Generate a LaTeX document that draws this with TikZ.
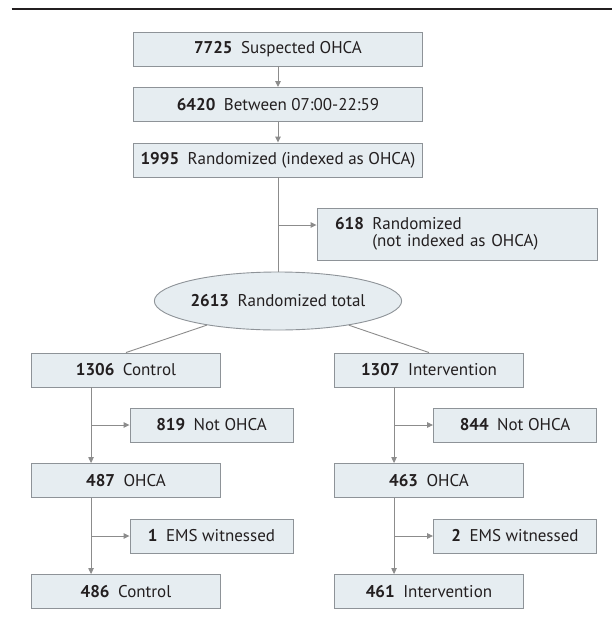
\documentclass[tikz,border=0pt]{standalone}
\usepackage{fontspec}
\setmainfont{PT Sans}
\usetikzlibrary{positioning,arrows.meta,shapes.geometric}
\definecolor{ink}{HTML}{231F20}
\definecolor{boxline}{HTML}{8E9398}
\definecolor{boxfill}{HTML}{E6EDF1}
\definecolor{wire}{HTML}{8C8C8C}
\tikzset{
  font=\fontsize{17}{17.5}\selectfont,
  >={Triangle[length=6pt,width=5.5pt]},
  %% nodes
  box/.style   = {draw=boxline, line width=0.9pt, fill=boxfill, text=ink,
                  inner sep=4pt, minimum height=34pt, align=center},
  wide/.style  = {box, minimum width=289pt},
  arm/.style   = {box, minimum width=189pt},
  side/.style  = {box, minimum width=163pt},
  note/.style  = {box, inner xsep=18pt, text width=244pt, minimum height=52pt, align=left},
  total/.style = {ellipse, draw=boxline, line width=0.9pt, fill=boxfill, text=ink,
                  minimum width=237pt, minimum height=58pt, inner sep=0pt},
  %% connectors
  flow/.style  = {->, draw=wire, line width=0.9pt},
  link/.style  = {-, draw=wire, line width=0.9pt},
}
\newcommand{\cnt}[2]{\textbf{#1}\enspace #2}

\begin{document}
\begin{tikzpicture}[x=1pt, y=-1pt]
\useasboundingbox (0,0) rectangle (612,625);
\draw[ink, line width=1.6pt] (11.5,9) -- (612,9);

%% ============ screening ============
\node[wide] (susp)   at (278,49)    {\cnt{7725}{Suspected OHCA}};
\node[wide] (hours)  at (278,104.5) {\cnt{6420}{Between 07:00-22:59}};
\node[wide] (rndidx) at (278,160)   {\cnt{1995}{Randomized (indexed as OHCA)}};
\node[note] (rndnot) at (457,234)
  {\cnt{618}{Randomized}\\\phantom{\textbf{618}\enspace}(not indexed as OHCA)};
\node[total] (rndall) at (278,301) {\cnt{2613}{Randomized total}};

\draw[flow] (susp) -- (hours);
\draw[flow] (hours) -- (rndidx);
\draw[link] (rndidx) -- (rndall);
\coordinate (brtop) at (278,225);
\draw[flow] (brtop) -- (brtop -| rndnot.west);

%% ============ control arm ============
\node[arm]  (ctrl)    at (126,370)   {\cnt{1306}{Control}};
\node[side] (ctrlno)  at (211.5,425) {\cnt{819}{Not OHCA}};
\node[arm]  (ctrlx)   at (126,480.5) {\cnt{487}{OHCA}};
\node[side] (ctrlems) at (211.5,536) {\cnt{1}{EMS witnessed}};
\node[arm]  (ctrlend) at (126,591.5) {\cnt{486}{Control}};

\coordinate (ctrlT) at ([xshift=60pt]ctrl.south west);
\coordinate (ctrlU) at ([xshift=60pt]ctrlx.south west);
\draw[link] (rndall) -- (ctrl.north);
\draw[flow] (ctrlT) -- (ctrlT |- ctrlx.north);
\draw[flow] (ctrlT |- ctrlno.west) -- (ctrlno.west);
\draw[flow] (ctrlU) -- (ctrlU |- ctrlend.north);
\draw[flow] (ctrlU |- ctrlems.west) -- (ctrlems.west);

%% ============ intervention arm ============
\node[arm]  (intv)    at (429,370)   {\cnt{1307}{Intervention}};
\node[side] (intvno)  at (515,425)   {\cnt{844}{Not OHCA}};
\node[arm]  (intvx)   at (429,480.5) {\cnt{463}{OHCA}};
\node[side] (intvems) at (515,536)   {\cnt{2}{EMS witnessed}};
\node[arm]  (intvend) at (429,591.5) {\cnt{461}{Intervention}};

\coordinate (intvT) at ([xshift=60pt]intv.south west);
\coordinate (intvU) at ([xshift=60pt]intvx.south west);
\draw[link] (rndall) -- (intv.north);
\draw[flow] (intvT) -- (intvT |- intvx.north);
\draw[flow] (intvT |- intvno.west) -- (intvno.west);
\draw[flow] (intvU) -- (intvU |- intvend.north);
\draw[flow] (intvU |- intvems.west) -- (intvems.west);

\end{tikzpicture}
\end{document}
